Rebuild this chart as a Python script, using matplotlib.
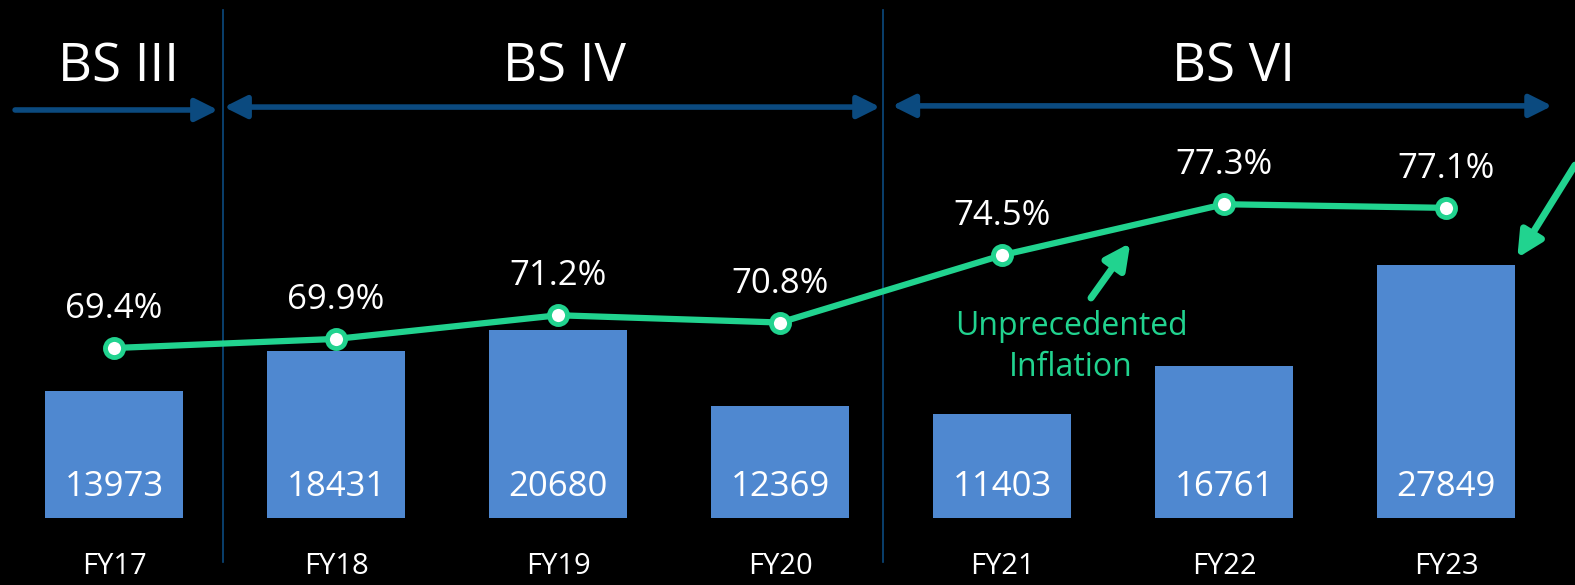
import numpy as np
import matplotlib.pyplot as plt

# data
years = ['FY17', 'FY18', 'FY19', 'FY20', 'FY21', 'FY22', 'FY23']
volumes = [13973, 18431, 20680, 12369, 11403, 16761, 27849]
share = [69.4, 69.9, 71.2, 70.8, 74.5, 77.3, 77.1]
stages = ['BS III', 'BS IV', 'BS VI']

BAR = '#4F88D0'
GREEN = '#21D38F'
NAVY = '#0B4A7F'

plt.rcParams['font.family'] = ['Open Sans', 'DejaVu Sans']

fig = plt.figure(figsize=(15.75, 5.85), dpi=100, facecolor='black')
ax = fig.add_axes([0, 0, 1, 1])
ax.set_facecolor('black')
x = np.arange(len(years))

# bars
ax.bar(x, volumes, width=0.62, color=BAR)
ax.set_xlim(-0.514, 6.58)
ax.set_ylim(-7375, 57017)
ax.axis('off')

for xi, v in zip(x, volumes):
    ax.annotate(str(v), (xi, 0), xytext=(0, 22), textcoords='offset points',
                ha='center', va='center', color='white', fontsize=25)

for xi, lab in zip(x, years):
    ax.text(xi, 0.031, lab, transform=ax.get_xaxis_transform(),
            ha='center', va='center', color='white', fontsize=21)

# line on its own scale
ax2 = ax.twinx()
ax2.set_ylim(56.38, 88.52)
ax2.axis('off')
ax2.plot(x, share, color=GREEN, lw=4.5, marker='o', markersize=13,
         markerfacecolor='white', markeredgecolor=GREEN, markeredgewidth=3.5)
for xi, s in zip(x, share):
    ax2.annotate('%.1f%%' % s, (xi, s), xytext=(0, 28), textcoords='offset points',
                 ha='center', va='center', color='white', fontsize=25)

# emission stage separators and arrows
trans = ax.get_xaxis_transform()
for sx in [0.49, 3.465]:
    ax.plot([sx, sx], [0.04, 0.983], transform=trans, color=NAVY, lw=1.2)

arrow_kw = dict(color=NAVY, lw=4, mutation_scale=34, shrinkA=0, shrinkB=0)
ax.annotate('', xy=(0.468, 0.812), xytext=(-0.446, 0.812), xycoords=trans,
            arrowprops=dict(arrowstyle='-|>', **arrow_kw))
ax.annotate('', xy=(3.45, 0.817), xytext=(0.495, 0.817), xycoords=trans,
            arrowprops=dict(arrowstyle='<|-|>', **arrow_kw))
ax.annotate('', xy=(6.477, 0.819), xytext=(3.505, 0.819), xycoords=trans,
            arrowprops=dict(arrowstyle='<|-|>', **arrow_kw))

for sx, lab in zip([0.018, 2.03, 5.04], stages):
    ax.text(sx, 0.884, lab, transform=trans, ha='center', va='center',
            color='white', fontsize=38)

# inflation callouts
ax2.text(4.31, 69.45, 'Unprecedented\nInflation', ha='center', va='center',
         color=GREEN, fontsize=23, linespacing=1.35)
ax2.annotate('', xy=(4.577, 75.17), xytext=(4.40, 72.15),
             arrowprops=dict(arrowstyle='-|>', color=GREEN, lw=5,
                             mutation_scale=38, shrinkA=0, shrinkB=0))
ax2.annotate('', xy=(6.32, 74.35), xytext=(6.58, 79.45),
             arrowprops=dict(arrowstyle='-|>', color=GREEN, lw=5,
                             mutation_scale=38, shrinkA=0, shrinkB=0))

fig.savefig('out.png', dpi=100, facecolor='black')
